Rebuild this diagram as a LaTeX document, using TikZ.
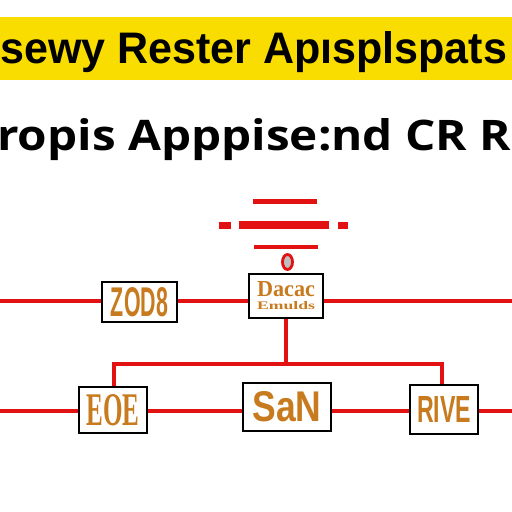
\documentclass[tikz,border=0pt]{standalone}
\usepackage{fontspec}
\usepackage{graphicx}
\setmainfont{Liberation Serif}
\newfontfamily\titlefont{Liberation Sans}[BoldFont={Liberation Sans Bold}]
\newfontfamily\subfont{Open Sans}
\newfontfamily\boxsans{Liberation Sans}
\newfontfamily\boxserif{Liberation Serif}
\definecolor{bandyellow}{RGB}{249,221,0}
\definecolor{rline}{RGB}{226,18,18}
\definecolor{otext}{RGB}{200,122,30}
\tikzset{
  redline/.style={draw=rline, line width=4.5pt},
  boxnode/.style={draw=black, line width=2.4pt, fill=white, inner sep=0pt, align=center, text=otext},
}
\begin{document}
\begin{tikzpicture}[x=1pt,y=-1pt]
\useasboundingbox (0,0) rectangle (512,512);
\clip (0,0) rectangle (512,512);
\fill[white] (0,0) rectangle (512,512);
% title band
\fill[fill=bandyellow] (0,17) rectangle (512,80);
\node[anchor=base west, inner sep=0pt, text=black] (t1) at (0,63) {\resizebox{507pt}{32pt}{\titlefont\bfseries sewy Rester Apısplspats}};
% second line
\node[anchor=base west, inner sep=0pt] (t2) at (-3,150) {\resizebox{514pt}{32pt}{\subfont\bfseries ropis Apppise:nd CR R}};
\node[anchor=base east, inner sep=0pt] (t2u) at ([xshift=3pt]t2.base west) {\fontsize{42}{42}\subfont\bfseries u};
\node[anchor=base west, inner sep=0pt] (t2o) at ([xshift=1pt]t2.base east) {\fontsize{42}{42}\subfont\bfseries o};
% decorative lines above centre box
\draw[draw=rline, line width=5pt] (253,201) -- (317,201);
\draw[draw=rline, line width=8pt] (239,225) -- (329,225);
\draw[draw=rline, line width=7pt] (219,225) -- (231,225);
\draw[draw=rline, line width=7pt] (338,225) -- (348,225);
\draw[draw=rline, line width=4pt] (254,247) -- (318,247);
\draw[draw=rline, line width=2.8pt, fill=black!25] (287.5,262) ellipse [x radius=5, y radius=7.5];
% boxes
\node[boxnode, minimum width=74pt, minimum height=44pt] (ctr) at (286,296) {\resizebox{58pt}{15pt}{\boxserif\bfseries Dacac}\\[1pt]\resizebox{58pt}{8pt}{\boxserif\bfseries Emulds}};
\node[boxnode, minimum width=75pt, minimum height=40pt] (lft) at (139.5,302) {\resizebox{57pt}{29pt}{\boxsans\bfseries ZOD8}};
\node[boxnode, minimum width=68pt, minimum height=46pt] (eoe) at (113,410) {\resizebox{53pt}{31pt}{\boxserif\bfseries EOE}};
\node[boxnode, minimum width=88pt, minimum height=48pt] (san) at (287,407) {\resizebox{69pt}{30pt}{\boxsans\bfseries SaN}};
\node[boxnode, minimum width=68pt, minimum height=49pt] (rive) at (444,409.5) {\resizebox{54pt}{26pt}{\boxsans\bfseries RIVE}};
% connectors
\coordinate (L0) at (0,301);
\coordinate (R0) at (512,301);
\coordinate (B) at (286,364);
\coordinate (BL) at (0,411);
\coordinate (BR) at (512,411);
\draw[redline] (L0) -- (L0 -| lft.west);
\draw[redline] (lft.east |- L0) -- (ctr.west |- L0);
\draw[redline] (ctr.east |- L0) -- (R0);
\draw[redline] (ctr.south) -- (B);
\draw[redline] ([xshift=1pt]eoe.north) |- (B);
\draw[redline] (B) -| ([xshift=-2pt]rive.north);
\draw[redline] (BL) -- (BL -| eoe.west);
\draw[redline] (eoe.east |- BL) -- (san.west |- BL);
\draw[redline] (san.east |- BL) -- (rive.west |- BL);
\draw[redline] (rive.east |- BL) -- (BR);
\end{tikzpicture}
\end{document}
